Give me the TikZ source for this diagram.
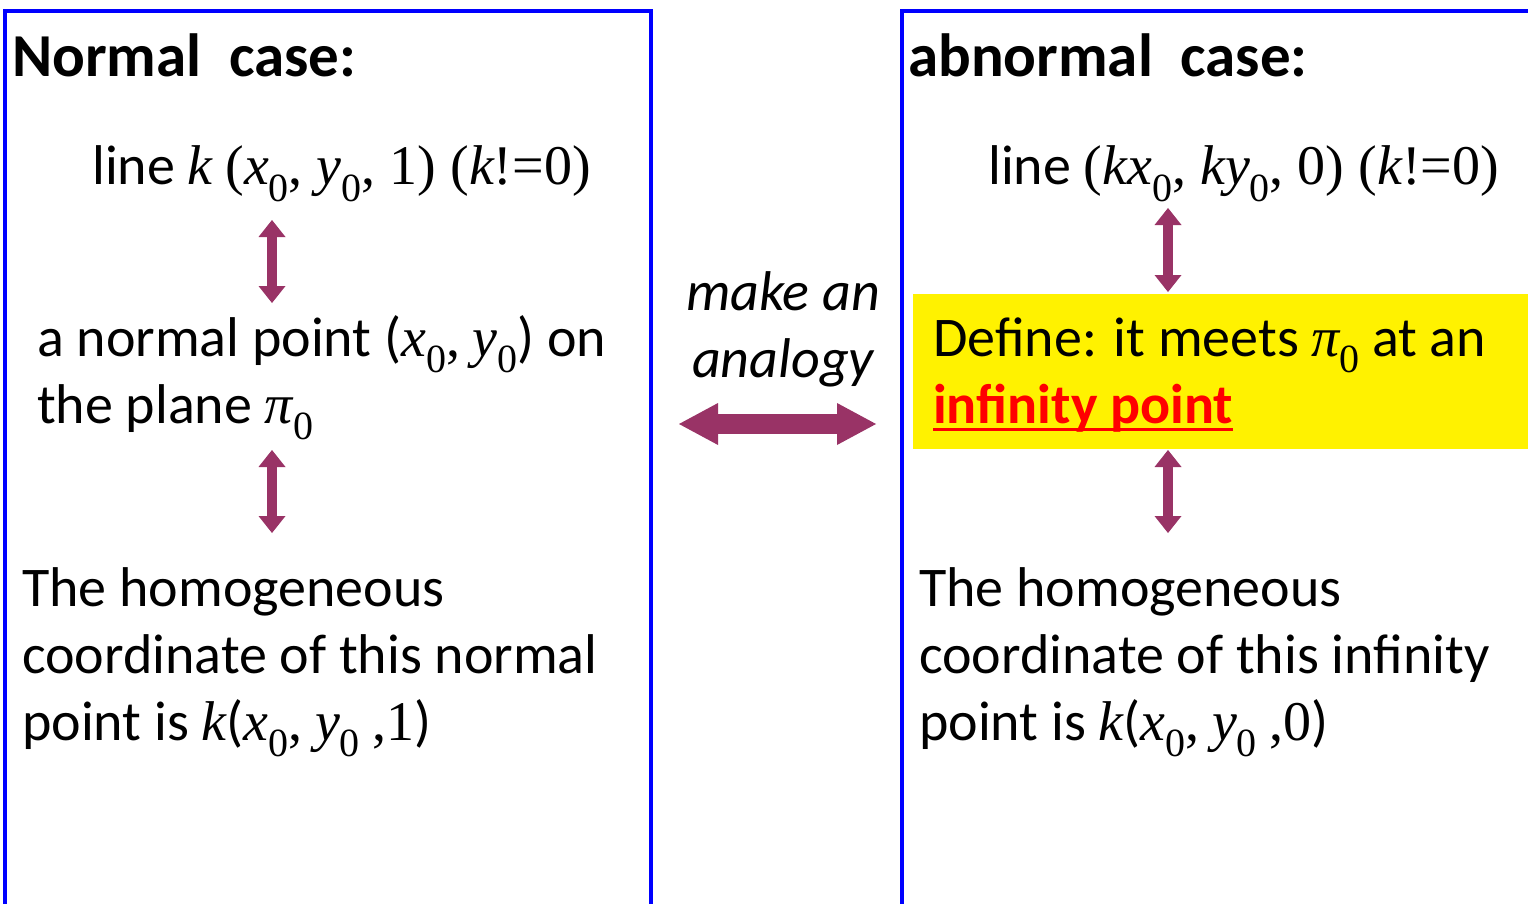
\documentclass[tikz,border=0pt]{standalone}
\usepackage{fontspec}
\setmainfont{Carlito}
\newfontfamily\tnr{Liberation Serif}
\usetikzlibrary{arrows.meta, positioning}

\definecolor{plum}{HTML}{993366}
\newcommand\vi[1]{{\tnr\itshape #1}}
\newcommand\nul{\raisebox{-0.3em}{\tnr\fontsize{40}{40}\selectfont 0}}
\newlength\ulwd
\newcommand\redul[1]{\settowidth\ulwd{#1}\rlap{\rule[-0.15em]{\ulwd}{0.06em}}#1}

\begin{document}
\begin{tikzpicture}[
	x=1pt, y=-1pt,
	frame/.style={draw=blue, line width=4pt},
	heading/.style={anchor=base west, inner sep=0pt, font=\fontsize{61}{73}\selectfont\bfseries},
	body/.style={anchor=base west, inner sep=0pt, align=left, font=\fontsize{56}{67}\selectfont},
	hilite/.style={fill=yellow, inner sep=0pt, anchor=north west, minimum width=620pt, minimum height=155pt},
	varrow/.style={plum, line width=10pt, {Triangle[length=17pt, width=27pt, line width=0pt]}-{Triangle[length=17pt, width=27pt, line width=0pt]}},
	harrow/.style={plum, line width=20pt, {Triangle[length=39pt, width=42pt, line width=0pt]}-{Triangle[length=39pt, width=42pt, line width=0pt]}}
]
	\useasboundingbox (0,0) rectangle (1528,904);
	\fill[white] (0,0) rectangle (1528,904);

	% the two cases
	\draw[frame] (5,11) rectangle (651,930);
	\draw[frame] (902,11) rectangle (1560,930);
	\node[hilite] (defbox) at (913,294) {};

	\node[heading] (normtitle) at (12,77) {Normal\ \ case:};
	\node[heading] (abtitle) at (908,77) {abnormal\ \ case:};

	% normal case (multi-line nodes sit on their last line)
	\node[body] (lineL) at (92,185) {line \vi{k} {\tnr(\vi{x}\nul, \vi{y}\nul, 1) (\vi{k}!=0)}};
	\node[body] (pointL) at (37,423) {a normal point (\vi{x}\nul{\tnr,} \vi{y}\nul) on\\the plane \vi{π}\nul};
	\node[body] (homL) at (22,740) {The homogeneous\\coordinate of this normal\\point is \vi{k}(\vi{x}\nul{\tnr,} \vi{y}\nul\ {\tnr,1})};

	% abnormal case
	\node[body] (lineR) at (988,185) {line {\tnr(\vi{kx}\nul, \vi{ky}\nul, 0) (\vi{k}!=0)}};
	\node[body] (defR) at (933,423) {Define: it meets \vi{π}\nul{} at an\\{\color{red}\bfseries\redul{infinity point}}};
	\node[body] (homR) at (919,740) {The homogeneous\\coordinate of this infinity\\point is \vi{k}(\vi{x}\nul{\tnr,} \vi{y}\nul\ {\tnr,0})};

	% analogy
	\node[body, anchor=base, align=center, font=\fontsize{56}{67}\selectfont\itshape] (analogy) at (783,377) {make an\\analogy};

	\coordinate (l1) at (272,220);
	\coordinate (l2) at (272,303);
	\coordinate (l3) at (272,450);
	\coordinate (l4) at (272,533);
	\coordinate (r1) at (1168,208);
	\coordinate (r2) at (1168,292);
	\coordinate (r3) at (1168,450);
	\coordinate (r4) at (1168,533);
	\coordinate (hl) at (679,424);
	\coordinate (hr) at (876,424);

	\draw[varrow] (l1) -- (l2);
	\draw[varrow] (l3) -- (l4);
	\draw[varrow] (r1) -- (r2);
	\draw[varrow] (r3) -- (r4);
	\draw[harrow] (hl) -- (hr);
\end{tikzpicture}
\end{document}
